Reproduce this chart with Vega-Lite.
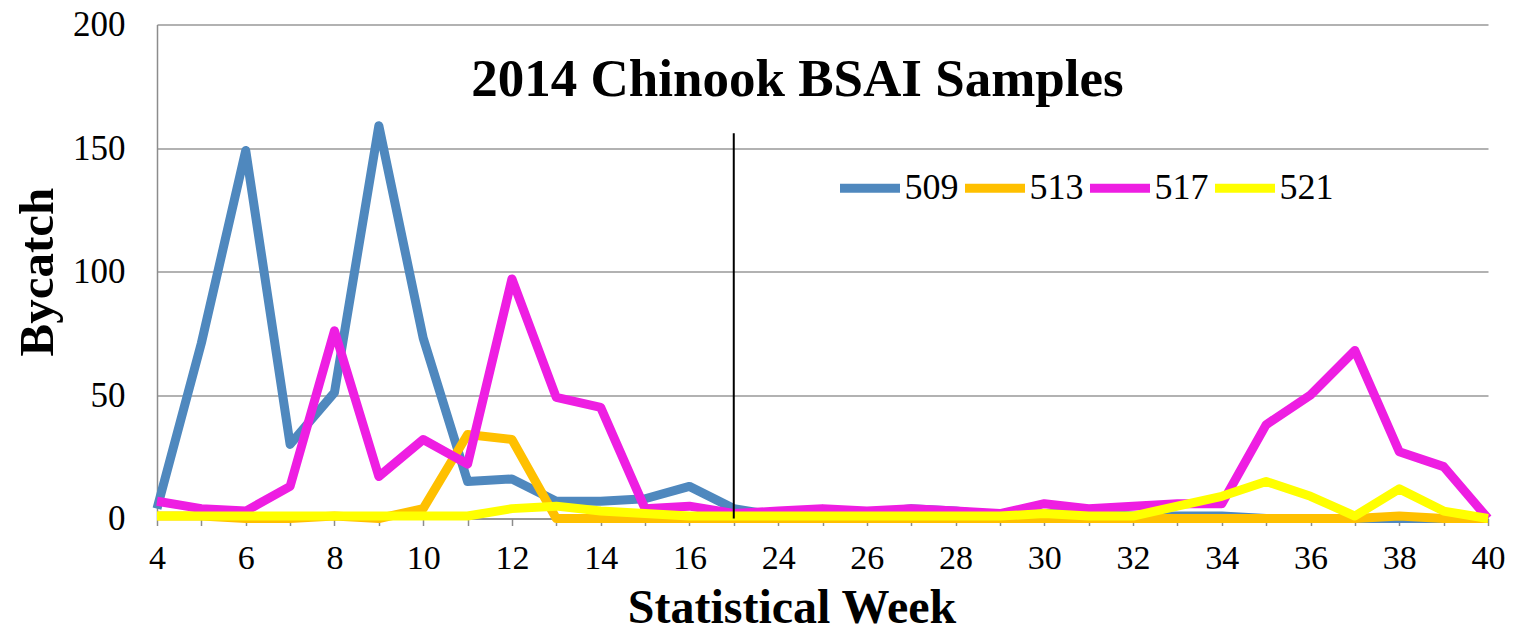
{
  "$schema": "https://vega.github.io/schema/vega-lite/v6.json",
  "width": 1331,
  "height": 494,
  "autosize": {"type": "none"},
  "padding": {"left": 157, "top": 24.5, "right": 27, "bottom": 112.5},
  "background": "white",
  "title": {
    "text": "2014 Chinook BSAI Samples",
    "font": "Liberation Serif",
    "fontSize": 53,
    "fontWeight": "bold",
    "color": "black",
    "anchor": "middle",
    "frame": "group",
    "offset": -141,
    "dx": -25,
    "baseline": "alphabetic"
  },
  "config": {
    "view": {"stroke": null},
    "axis": {
      "labelFont": "Liberation Serif",
      "labelColor": "black",
      "titleFont": "Liberation Serif",
      "titleColor": "black",
      "titleFontWeight": "bold",
      "domainColor": "#8c8c8c",
      "domainWidth": 1.5,
      "tickColor": "#8c8c8c",
      "tickWidth": 1.5,
      "gridColor": "#999999",
      "gridWidth": 1.5
    }
  },
  "data": {
    "values": [
      {"week": 4, "series": "509", "bycatch": 4},
      {"week": 5, "series": "509", "bycatch": 71},
      {"week": 6, "series": "509", "bycatch": 149},
      {"week": 7, "series": "509", "bycatch": 30},
      {"week": 8, "series": "509", "bycatch": 51},
      {"week": 9, "series": "509", "bycatch": 159},
      {"week": 10, "series": "509", "bycatch": 73},
      {"week": 11, "series": "509", "bycatch": 15},
      {"week": 12, "series": "509", "bycatch": 16},
      {"week": 13, "series": "509", "bycatch": 7},
      {"week": 14, "series": "509", "bycatch": 7},
      {"week": 15, "series": "509", "bycatch": 8},
      {"week": 16, "series": "509", "bycatch": 13},
      {"week": 17, "series": "509", "bycatch": 4},
      {"week": 24, "series": "509", "bycatch": 1},
      {"week": 25, "series": "509", "bycatch": 1},
      {"week": 26, "series": "509", "bycatch": 2},
      {"week": 27, "series": "509", "bycatch": 4},
      {"week": 28, "series": "509", "bycatch": 3},
      {"week": 29, "series": "509", "bycatch": 1},
      {"week": 30, "series": "509", "bycatch": 2},
      {"week": 31, "series": "509", "bycatch": 2},
      {"week": 32, "series": "509", "bycatch": 1},
      {"week": 33, "series": "509", "bycatch": 1},
      {"week": 34, "series": "509", "bycatch": 1},
      {"week": 35, "series": "509", "bycatch": 0},
      {"week": 36, "series": "509", "bycatch": 0},
      {"week": 37, "series": "509", "bycatch": 0},
      {"week": 38, "series": "509", "bycatch": 0},
      {"week": 39, "series": "509", "bycatch": 0},
      {"week": 40, "series": "509", "bycatch": 0},
      {"week": 4, "series": "513", "bycatch": 1},
      {"week": 5, "series": "513", "bycatch": 1},
      {"week": 6, "series": "513", "bycatch": 0},
      {"week": 7, "series": "513", "bycatch": 0},
      {"week": 8, "series": "513", "bycatch": 1},
      {"week": 9, "series": "513", "bycatch": 0},
      {"week": 10, "series": "513", "bycatch": 4},
      {"week": 11, "series": "513", "bycatch": 34},
      {"week": 12, "series": "513", "bycatch": 32},
      {"week": 13, "series": "513", "bycatch": 0},
      {"week": 14, "series": "513", "bycatch": 0},
      {"week": 15, "series": "513", "bycatch": 0},
      {"week": 16, "series": "513", "bycatch": 0},
      {"week": 17, "series": "513", "bycatch": 0},
      {"week": 24, "series": "513", "bycatch": 0},
      {"week": 25, "series": "513", "bycatch": 0},
      {"week": 26, "series": "513", "bycatch": 0},
      {"week": 27, "series": "513", "bycatch": 0},
      {"week": 28, "series": "513", "bycatch": 0},
      {"week": 29, "series": "513", "bycatch": 0},
      {"week": 30, "series": "513", "bycatch": 0},
      {"week": 31, "series": "513", "bycatch": 0},
      {"week": 32, "series": "513", "bycatch": 0},
      {"week": 33, "series": "513", "bycatch": 0},
      {"week": 34, "series": "513", "bycatch": 0},
      {"week": 35, "series": "513", "bycatch": 0},
      {"week": 36, "series": "513", "bycatch": 0},
      {"week": 37, "series": "513", "bycatch": 0},
      {"week": 38, "series": "513", "bycatch": 1},
      {"week": 39, "series": "513", "bycatch": 0},
      {"week": 40, "series": "513", "bycatch": 0},
      {"week": 4, "series": "517", "bycatch": 7},
      {"week": 5, "series": "517", "bycatch": 4},
      {"week": 6, "series": "517", "bycatch": 3},
      {"week": 7, "series": "517", "bycatch": 13},
      {"week": 8, "series": "517", "bycatch": 76},
      {"week": 9, "series": "517", "bycatch": 17},
      {"week": 10, "series": "517", "bycatch": 32},
      {"week": 11, "series": "517", "bycatch": 22},
      {"week": 12, "series": "517", "bycatch": 97},
      {"week": 13, "series": "517", "bycatch": 49},
      {"week": 14, "series": "517", "bycatch": 45},
      {"week": 15, "series": "517", "bycatch": 4},
      {"week": 16, "series": "517", "bycatch": 5},
      {"week": 17, "series": "517", "bycatch": 2},
      {"week": 24, "series": "517", "bycatch": 3},
      {"week": 25, "series": "517", "bycatch": 4},
      {"week": 26, "series": "517", "bycatch": 3},
      {"week": 27, "series": "517", "bycatch": 4},
      {"week": 28, "series": "517", "bycatch": 3},
      {"week": 29, "series": "517", "bycatch": 2},
      {"week": 30, "series": "517", "bycatch": 6},
      {"week": 31, "series": "517", "bycatch": 4},
      {"week": 32, "series": "517", "bycatch": 5},
      {"week": 33, "series": "517", "bycatch": 6},
      {"week": 34, "series": "517", "bycatch": 6},
      {"week": 35, "series": "517", "bycatch": 38},
      {"week": 36, "series": "517", "bycatch": 50},
      {"week": 37, "series": "517", "bycatch": 68},
      {"week": 38, "series": "517", "bycatch": 27},
      {"week": 39, "series": "517", "bycatch": 21},
      {"week": 40, "series": "517", "bycatch": 0},
      {"week": 4, "series": "521", "bycatch": 1},
      {"week": 5, "series": "521", "bycatch": 1},
      {"week": 6, "series": "521", "bycatch": 1},
      {"week": 7, "series": "521", "bycatch": 1},
      {"week": 8, "series": "521", "bycatch": 1},
      {"week": 9, "series": "521", "bycatch": 1},
      {"week": 10, "series": "521", "bycatch": 1},
      {"week": 11, "series": "521", "bycatch": 1},
      {"week": 12, "series": "521", "bycatch": 4},
      {"week": 13, "series": "521", "bycatch": 5},
      {"week": 14, "series": "521", "bycatch": 3},
      {"week": 15, "series": "521", "bycatch": 2},
      {"week": 16, "series": "521", "bycatch": 1},
      {"week": 17, "series": "521", "bycatch": 1},
      {"week": 24, "series": "521", "bycatch": 1},
      {"week": 25, "series": "521", "bycatch": 1},
      {"week": 26, "series": "521", "bycatch": 1},
      {"week": 27, "series": "521", "bycatch": 1},
      {"week": 28, "series": "521", "bycatch": 1},
      {"week": 29, "series": "521", "bycatch": 1},
      {"week": 30, "series": "521", "bycatch": 2},
      {"week": 31, "series": "521", "bycatch": 1},
      {"week": 32, "series": "521", "bycatch": 1},
      {"week": 33, "series": "521", "bycatch": 5},
      {"week": 34, "series": "521", "bycatch": 9},
      {"week": 35, "series": "521", "bycatch": 15},
      {"week": 36, "series": "521", "bycatch": 9},
      {"week": 37, "series": "521", "bycatch": 1},
      {"week": 38, "series": "521", "bycatch": 12},
      {"week": 39, "series": "521", "bycatch": 3},
      {"week": 40, "series": "521", "bycatch": 0}
    ]
  },
  "layer": [
    {
      "mark": {"type": "line", "strokeWidth": 9, "strokeJoin": "round"},
      "encoding": {
        "x": {
          "field": "week",
          "type": "ordinal",
          "scale": {"type": "point", "padding": 0},
          "axis": {
            "labelAngle": 0,
            "labelFontSize": 34,
            "labelExpr": "datum.value % 2 == 0 ? datum.label : ''",
            "labelPadding": 16,
            "labelBaseline": "top",
            "tickSize": 7,
            "grid": false,
            "title": "Statistical Week",
            "titleFontSize": 48,
            "titleX": 634.5,
            "titleY": 104,
            "titleBaseline": "alphabetic",
            "titleAlign": "center",
            "titleAnchor": null
          }
        },
        "y": {
          "field": "bycatch",
          "type": "quantitative",
          "scale": {"domain": [0, 200], "nice": false},
          "axis": {
            "values": [0, 50, 100, 150, 200],
            "ticks": false,
            "labelFontSize": 35,
            "labelPadding": 32,
            "grid": true,
            "title": "Bycatch",
            "titleFontSize": 49,
            "titleX": -105,
            "titleY": 247,
            "titleAngle": 270,
            "titleBaseline": "alphabetic",
            "titleAlign": "center",
            "titleAnchor": null
          }
        },
        "color": {
          "field": "series",
          "type": "nominal",
          "scale": {
            "domain": ["509", "513", "517", "521"],
            "range": ["#4F88BE", "#FFC000", "#EE1EE2", "#FFFF00"]
          },
          "legend": {
            "title": null,
            "orient": "none",
            "direction": "horizontal",
            "legendX": 678.5,
            "legendY": 129,
            "padding": 0,
            "symbolType": "stroke",
            "symbolSize": 3600,
            "symbolStrokeWidth": 9,
            "labelFont": "Liberation Serif",
            "labelFontSize": 36,
            "labelColor": "black",
            "labelOffset": 0,
            "columnPadding": -12
          }
        }
      }
    },
    {
      "data": {"values": [{"week": 17, "low": 0, "high": 156}]},
      "mark": {"type": "rule", "color": "black", "strokeWidth": 2},
      "encoding": {
        "x": {"field": "week", "type": "ordinal"},
        "y": {"field": "low", "type": "quantitative"},
        "y2": {"field": "high"}
      }
    }
  ]
}
